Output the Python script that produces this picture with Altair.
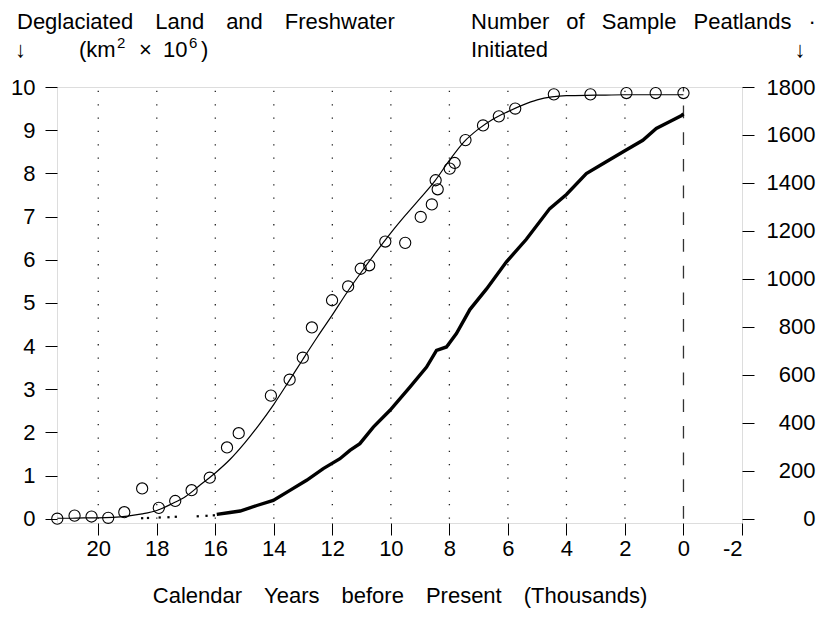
import altair as alt
import pandas as pd

FONT = "Liberation Sans"
FS = 22

# ---- observed deglaciated land + freshwater (open circles), left axis ----
obs_age = [21.40, 20.81, 20.23, 19.66, 19.11, 18.50, 17.93, 17.37, 16.81, 16.19,
           15.60, 15.20, 14.10, 13.46, 13.01, 12.70, 12.01, 11.46, 11.03, 10.74,
           10.19, 9.51, 8.98, 8.60, 8.40, 8.47, 7.99, 7.82, 7.45, 6.85,
           6.31, 5.75, 4.43, 3.18, 1.95, 0.95, 0.00]
obs_area = [0.00, 0.07, 0.05, 0.02, 0.15, 0.70, 0.25, 0.41, 0.66, 0.95,
            1.65, 1.98, 2.85, 3.22, 3.73, 4.43, 5.06, 5.38, 5.79, 5.87,
            6.42, 6.39, 6.99, 7.28, 7.63, 7.84, 8.11, 8.24, 8.77, 9.11,
            9.32, 9.50, 9.83, 9.83, 9.86, 9.86, 9.86]

# ---- fitted smooth curve, left axis ----
fit_age = [21.4, 21.0, 20.5, 20.0, 19.5, 19.0, 18.5, 18.0, 17.5, 17.0, 16.5, 16.0,
           15.5, 15.0, 14.5, 14.0, 13.5, 13.0, 12.5, 12.0, 11.5, 11.0, 10.5, 10.0,
           9.5, 9.0, 8.5, 8.0, 7.5, 7.0, 6.5, 6.0, 5.5, 5.0, 4.5, 4.0, 3.0, 2.0,
           1.0, 0.0]
fit_area = [0.01, 0.01, 0.02, 0.02, 0.03, 0.06, 0.11, 0.19, 0.34, 0.52, 0.79, 1.06,
            1.37, 1.75, 2.18, 2.65, 3.17, 3.70, 4.22, 4.72, 5.24, 5.72, 6.18, 6.62,
            7.03, 7.42, 7.82, 8.30, 8.73, 9.03, 9.26, 9.43, 9.58, 9.70, 9.77, 9.80,
            9.81, 9.82, 9.82, 9.82]

# ---- cumulative number of sample peatlands initiated, right axis ----
early_age = [18.5, 18.3, 17.9, 17.6, 17.35, 16.6, 16.3, 16.05]
early_n = [2, 3, 5, 6, 8, 10, 12, 14]
cum_age = [15.95, 15.5, 15.15, 14.58, 14.02, 13.45, 12.88, 12.31, 11.74, 11.4,
           11.06, 10.60, 10.03, 9.35, 8.78, 8.44, 8.10, 7.76, 7.30, 6.73,
           6.05, 5.37, 4.57, 4.0, 3.32, 2.64, 1.96, 1.39, 0.93, 0.48, 0.08, 0.0]
cum_n = [18, 26, 32, 55, 76, 118, 160, 209, 250, 285,
         313, 382, 452, 549, 632, 702, 716, 772, 872, 958,
         1071, 1165, 1293, 1352, 1439, 1488, 1537, 1578, 1627, 1655, 1680, 1688]

x_ticks = [20, 18, 16, 14, 12, 10, 8, 6, 4, 2, 0, -2]
grid_x = [20, 18, 16, 14, 12, 10, 8, 6, 4, 2]
left_ticks = list(range(0, 11))
right_ticks = list(range(0, 1801, 200))

W, H = 685, 436

xscale = alt.Scale(domain=[21.41, -2], nice=False, zero=False)
lscale = alt.Scale(domain=[-0.1, 10], nice=False, zero=False)
rscale = alt.Scale(domain=[-18, 1800], nice=False, zero=False)

xaxis = alt.Axis(values=x_ticks, tickSize=12, tickColor="black", tickWidth=1,
                 labelExpr="'' + datum.value", labelFont=FONT, labelFontSize=FS,
                 labelColor="black", labelPadding=3, domain=False, grid=False,
                 title="Calendar\u2003Years\u2003before\u2003Present\u2003(Thousands)",
                 titleFont=FONT, titleFontSize=FS, titleFontWeight="normal",
                 titleColor="black", titlePadding=26)
laxis = alt.Axis(values=left_ticks, tickSize=12, tickColor="black", tickWidth=1,
                 labelFont=FONT, labelFontSize=FS, labelColor="black",
                 labelPadding=10, domain=False, grid=False, title=None)
raxis = alt.Axis(orient="right", values=right_ticks, format="d", tickSize=12,
                 tickColor="black", tickWidth=1, labelFont=FONT, labelFontSize=FS,
                 labelColor="black", labelAlign="right", labelPadding=61,
                 domain=False, grid=False, title=None)

X = lambda f: alt.X(f, type="quantitative", scale=xscale, axis=xaxis)
YL = lambda f: alt.Y(f, type="quantitative", scale=lscale, axis=laxis)
YR = lambda f: alt.Y(f, type="quantitative", scale=rscale, axis=raxis)

grid = alt.Chart(pd.DataFrame({"x": grid_x})).mark_rule(
    color="#222", strokeWidth=1.3, strokeDash=[1.3, 12.03]
).encode(
    x=X("x"),
    y=alt.datum(0, type="quantitative", scale=lscale, axis=laxis),
    y2=alt.datum(10),
)

dash0 = alt.Chart(pd.DataFrame({"x": [0]})).mark_rule(
    color="#333", strokeWidth=1.3, strokeDash=[12.7, 14]
).encode(
    x=X("x"),
    y=alt.datum(0, type="quantitative", scale=lscale, axis=laxis),
    y2=alt.datum(10),
)

fit = alt.Chart(pd.DataFrame({"age": fit_age, "area": fit_area})).mark_line(
    color="black", strokeWidth=1.2, interpolate="monotone"
).encode(x=X("age"), y=YL("area"), order=alt.Order("age:Q", sort="descending"))

circles = alt.Chart(pd.DataFrame({"age": obs_age, "area": obs_area})).mark_point(
    shape="circle", size=125, filled=False, color="black", strokeWidth=1.1, opacity=1
).encode(x=X("age"), y=YL("area"))

cum = alt.Chart(pd.DataFrame({"age": cum_age, "n": cum_n})).mark_line(
    color="black", strokeWidth=3.4
).encode(x=X("age"), y=YR("n"), order=alt.Order("age:Q", sort="descending"))

early = alt.Chart(pd.DataFrame({"age": early_age, "n": early_n})).mark_point(
    shape="square", size=5, filled=True, color="black", opacity=1
).encode(x=X("age"), y=YR("n"))

left = alt.layer(grid, dash0, fit, circles)
right = alt.layer(cum, early)

one = pd.DataFrame({"a": [0]})


def label(txt, x, y, align="left", size=FS):
    return alt.Chart(one).mark_text(
        align=align, baseline="middle", font=FONT, fontSize=size, color="black"
    ).encode(x=alt.value(x), y=alt.value(y), text=alt.value(txt))


GAP = " \u2002"
texts = [
    label("Deglaciated\u2003Land\u2003and\u2003Freshwater", -40, -65),
    label("\u2193", -42, -37),
    label("(km", 22, -37),
    label("2", 60, -44, size=15),
    label("\u00d7", 82, -37),
    label("10", 106, -37),
    label("6", 132, -44, size=15),
    label(")", 144, -37),
    label("Number" + GAP + "of" + GAP + "Sample" + GAP + "Peatlands" + GAP + "\u00b7",
          414, -65),
    label("Initiated", 414, -37),
    label("\u2193", 743, -37, align="center"),
]

chart = alt.layer(left, right, *texts).resolve_scale(y="independent").properties(
    width=W, height=H,
    autosize=alt.AutoSizeParams(type="none"),
    padding={"left": 49, "top": 79, "right": 80, "bottom": 86},
).configure_view(stroke="black", strokeWidth=1.2).configure(background="white")

chart.save("out.html", embed_options={"renderer": "svg", "actions": False})
